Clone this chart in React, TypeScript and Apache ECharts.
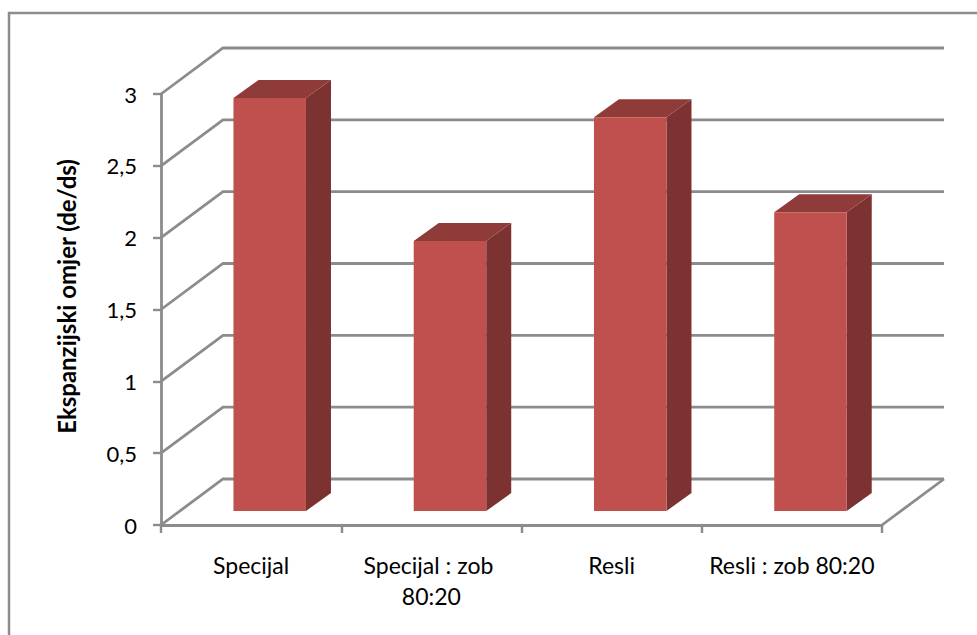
import React, { useEffect, useRef } from "react";
import * as echarts from "echarts";

const categories = ["Specijal", "Specijal : zob 80:20", "Resli", "Resli : zob 80:20"];
const ratioValues = [2.875, 1.88, 2.74, 2.08];
const gridValues = [0, 0.5, 1, 1.5, 2, 2.5, 3];
const yAxisTitle = "Ekspanzijski omjer (de/ds)";

const LINE = "#8c8c8c";
const FONT = "Lato, 'Open Sans', sans-serif";
const WALL_DX = 62;
const WALL_DY = -46;
const BAR_DX = 18.6;
const BAR_DY = -14;
const BAR_W = 72.5;
const DEPTH_DX = 25;
const DEPTH_DY = -18;

function renderWall(params: any, api: any) {
  const v = api.value(1);
  const cs = params.coordSys;
  const y = api.coord([0, v])[1];
  const x0 = cs.x;
  const x1 = cs.x + cs.width;
  const lineStyle = { stroke: LINE, lineWidth: 2.8, fill: "none" };
  const children: any[] = [
    {
      type: "polyline",
      shape: {
        points: [
          [x0, y],
          [x0 + WALL_DX, y + WALL_DY],
          [x1 + WALL_DX, y + WALL_DY],
        ],
      },
      style: lineStyle,
    },
  ];
  if (v === 0) {
    children.push({
      type: "line",
      shape: { x1, y1: y, x2: x1 + WALL_DX, y2: y + WALL_DY },
      style: lineStyle,
    });
  }
  return { type: "group", children };
}

function renderBar(_params: any, api: any) {
  const cat = api.value(0);
  const top = api.coord([cat, api.value(1)]);
  const base = api.coord([cat, 0]);
  const l = top[0] + BAR_DX - BAR_W / 2;
  const r = l + BAR_W;
  const t = top[1] + BAR_DY;
  const b = base[1] + BAR_DY;
  return {
    type: "group",
    children: [
      {
        type: "polygon",
        shape: { points: [[r, t], [r + DEPTH_DX, t + DEPTH_DY], [r + DEPTH_DX, b + DEPTH_DY], [r, b]] },
        style: { fill: "#7b3230" },
      },
      {
        type: "polygon",
        shape: { points: [[l, t], [l + DEPTH_DX, t + DEPTH_DY], [r + DEPTH_DX, t + DEPTH_DY], [r, t]] },
        style: { fill: "#8f3b39" },
      },
      {
        type: "rect",
        shape: { x: l, y: t, width: BAR_W, height: b - t },
        style: { fill: "#c0504d" },
      },
    ],
  };
}

export default function App() {
  const ref = useRef<HTMLDivElement>(null);
  useEffect(() => {
    document.body.style.margin = "0";
    const chart = echarts.init(ref.current!, undefined, { renderer: "svg" });
    chart.setOption({
      animation: false,
      backgroundColor: "#ffffff",
      grid: { left: 161, top: 94, width: 721, height: 431 },
      graphic: [
        {
          type: "rect",
          silent: true,
          z: -10,
          shape: { x: 9, y: 13, width: 1100, height: 800 },
          style: { fill: "none", stroke: LINE, lineWidth: 2.5 },
        },
      ],
      xAxis: {
        type: "category",
        data: categories,
        boundaryGap: true,
        axisLine: { show: true, lineStyle: { color: LINE, width: 2.8 } },
        axisTick: { show: true, length: 8, interval: 0, lineStyle: { color: LINE, width: 2.4 } },
        axisLabel: {
          interval: 0,
          color: "#000",
          fontFamily: FONT,
          fontSize: 23,
          margin: 24,
          lineHeight: 31,
          width: 172,
          overflow: "break",
        },
      },
      yAxis: {
        type: "value",
        min: 0,
        max: 3,
        interval: 0.5,
        name: yAxisTitle,
        nameLocation: "middle",
        nameRotate: 90,
        nameGap: 83,
        nameTextStyle: {
          color: "#000",
          fontFamily: FONT,
          fontSize: 24,
          fontWeight: "bold",
          padding: [0, 0, 0, 26],
        },
        splitLine: { show: false },
        axisLine: { show: true, lineStyle: { color: LINE, width: 2.8 } },
        axisTick: { show: true, length: 8, lineStyle: { color: LINE, width: 2.4 } },
        axisLabel: {
          color: "#000",
          fontFamily: FONT,
          fontSize: 22,
          margin: 24,
          formatter: (v: number) => String(v).replace(".", ","),
        },
      },
      series: [
        {
          type: "custom",
          coordinateSystem: "cartesian2d",
          clip: false,
          silent: true,
          z: 1,
          renderItem: renderWall,
          encode: { x: 0, y: 1 },
          data: gridValues.map((v) => [0, v]),
        },
        {
          type: "custom",
          coordinateSystem: "cartesian2d",
          clip: false,
          silent: true,
          z: 3,
          renderItem: renderBar,
          encode: { x: 0, y: 1 },
          data: ratioValues.map((v, i) => [i, v]),
        },
      ],
    });
    return () => chart.dispose();
  }, []);
  return <div ref={ref} style={{ position: "absolute", left: 0, top: 0, width: 977, height: 635 }} />;
}
